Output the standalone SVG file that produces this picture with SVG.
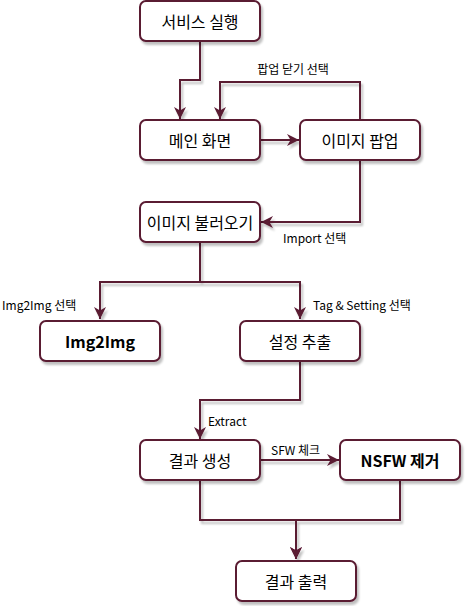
<svg xmlns="http://www.w3.org/2000/svg" width="465" height="606" viewBox="0 0 465 606">
<defs>
<filter id="sh" x="-10%" y="-10%" width="130%" height="140%">
<feGaussianBlur in="SourceAlpha" stdDeviation="0.8"/>
<feOffset dx="2" dy="3" result="o"/>
<feComponentTransfer><feFuncA type="linear" slope="0.25"/></feComponentTransfer>
<feMerge><feMergeNode/><feMergeNode in="SourceGraphic"/></feMerge>
</filter>
<filter id="she" filterUnits="userSpaceOnUse" x="0" y="0" width="465" height="606">
<feGaussianBlur in="SourceAlpha" stdDeviation="0.8"/>
<feOffset dx="2" dy="3" result="o"/>
<feComponentTransfer><feFuncA type="linear" slope="0.25"/></feComponentTransfer>
<feMerge><feMergeNode/><feMergeNode in="SourceGraphic"/></feMerge>
</filter>
<marker id="a" viewBox="0 0 10 10" refX="10" refY="5" markerWidth="12" markerHeight="12" orient="auto" markerUnits="userSpaceOnUse">
<path d="M0,0 L10,5 L0,10 L3,5 Z" fill="#5a1a32"/>
</marker>
</defs>
<style>
.n rect{fill:#fff;stroke:#5a1a32;stroke-width:2;filter:url(#sh)}
.n text{font-family:"Noto Sans CJK KR","Malgun Gothic",sans-serif;font-size:16px;fill:#000;text-anchor:middle;dominant-baseline:central}
.b text{font-weight:bold}
.e path{fill:none;stroke:#5a1a32;stroke-width:2;marker-end:url(#a)}
.l{font-family:"Noto Sans CJK KR","Malgun Gothic",sans-serif;font-size:12px;fill:#000}
</style>
<g id="edges" class="e" filter="url(#she)">
<path d="M200,41 V80 H180 V119"/>
<path d="M360,120 V82 H220 V119"/>
<path d="M260,140 H299"/>
<path d="M360,160 V222 H261"/>
<path d="M200,242 V282 H100 V319"/>
<path d="M200,242 V282 H300 V319"/>
<path d="M300,360 V400 H200 V439"/>
<path d="M260,460 H339"/>
<path d="M200,480 V520 H296 V559"/>
<path d="M400,480 V520 H296 V559"/>
</g>
<g id="edge-labels">
<text class="l" x="293" y="74" text-anchor="middle">팝업 닫기 선택</text>
<text class="l" x="283" y="243">Import 선택</text>
<text class="l" x="2" y="310">Img2Img 선택</text>
<text class="l" x="313" y="310">Tag &amp; Setting 선택</text>
<text class="l" x="208" y="426">Extract</text>
<text class="l" x="271" y="455">SFW 체크</text>
</g>
<g id="n1" class="n"><rect x="140" y="1" width="120" height="40" rx="6"/><text x="200" y="21">서비스 실행</text></g>
<g id="n2" class="n"><rect x="140" y="120" width="120" height="40" rx="6"/><text x="200" y="140">메인 화면</text></g>
<g id="n3" class="n"><rect x="300" y="120" width="120" height="40" rx="6"/><text x="360" y="140">이미지 팝업</text></g>
<g id="n4" class="n"><rect x="140" y="202" width="120" height="40" rx="6"/><text x="200" y="222">이미지 불러오기</text></g>
<g id="n5" class="n b"><rect x="40" y="321" width="120" height="40" rx="6"/><text x="100" y="341">Img2Img</text></g>
<g id="n6" class="n"><rect x="240" y="321" width="120" height="40" rx="6"/><text x="300" y="341">설정 추출</text></g>
<g id="n7" class="n"><rect x="140" y="440" width="120" height="40" rx="6"/><text x="200" y="460">결과 생성</text></g>
<g id="n8" class="n b"><rect x="340" y="440" width="120" height="40" rx="6"/><text x="400" y="460">NSFW 제거</text></g>
<g id="n9" class="n"><rect x="236" y="561" width="120" height="40" rx="6"/><text x="296" y="581">결과 출력</text></g>
</svg>
